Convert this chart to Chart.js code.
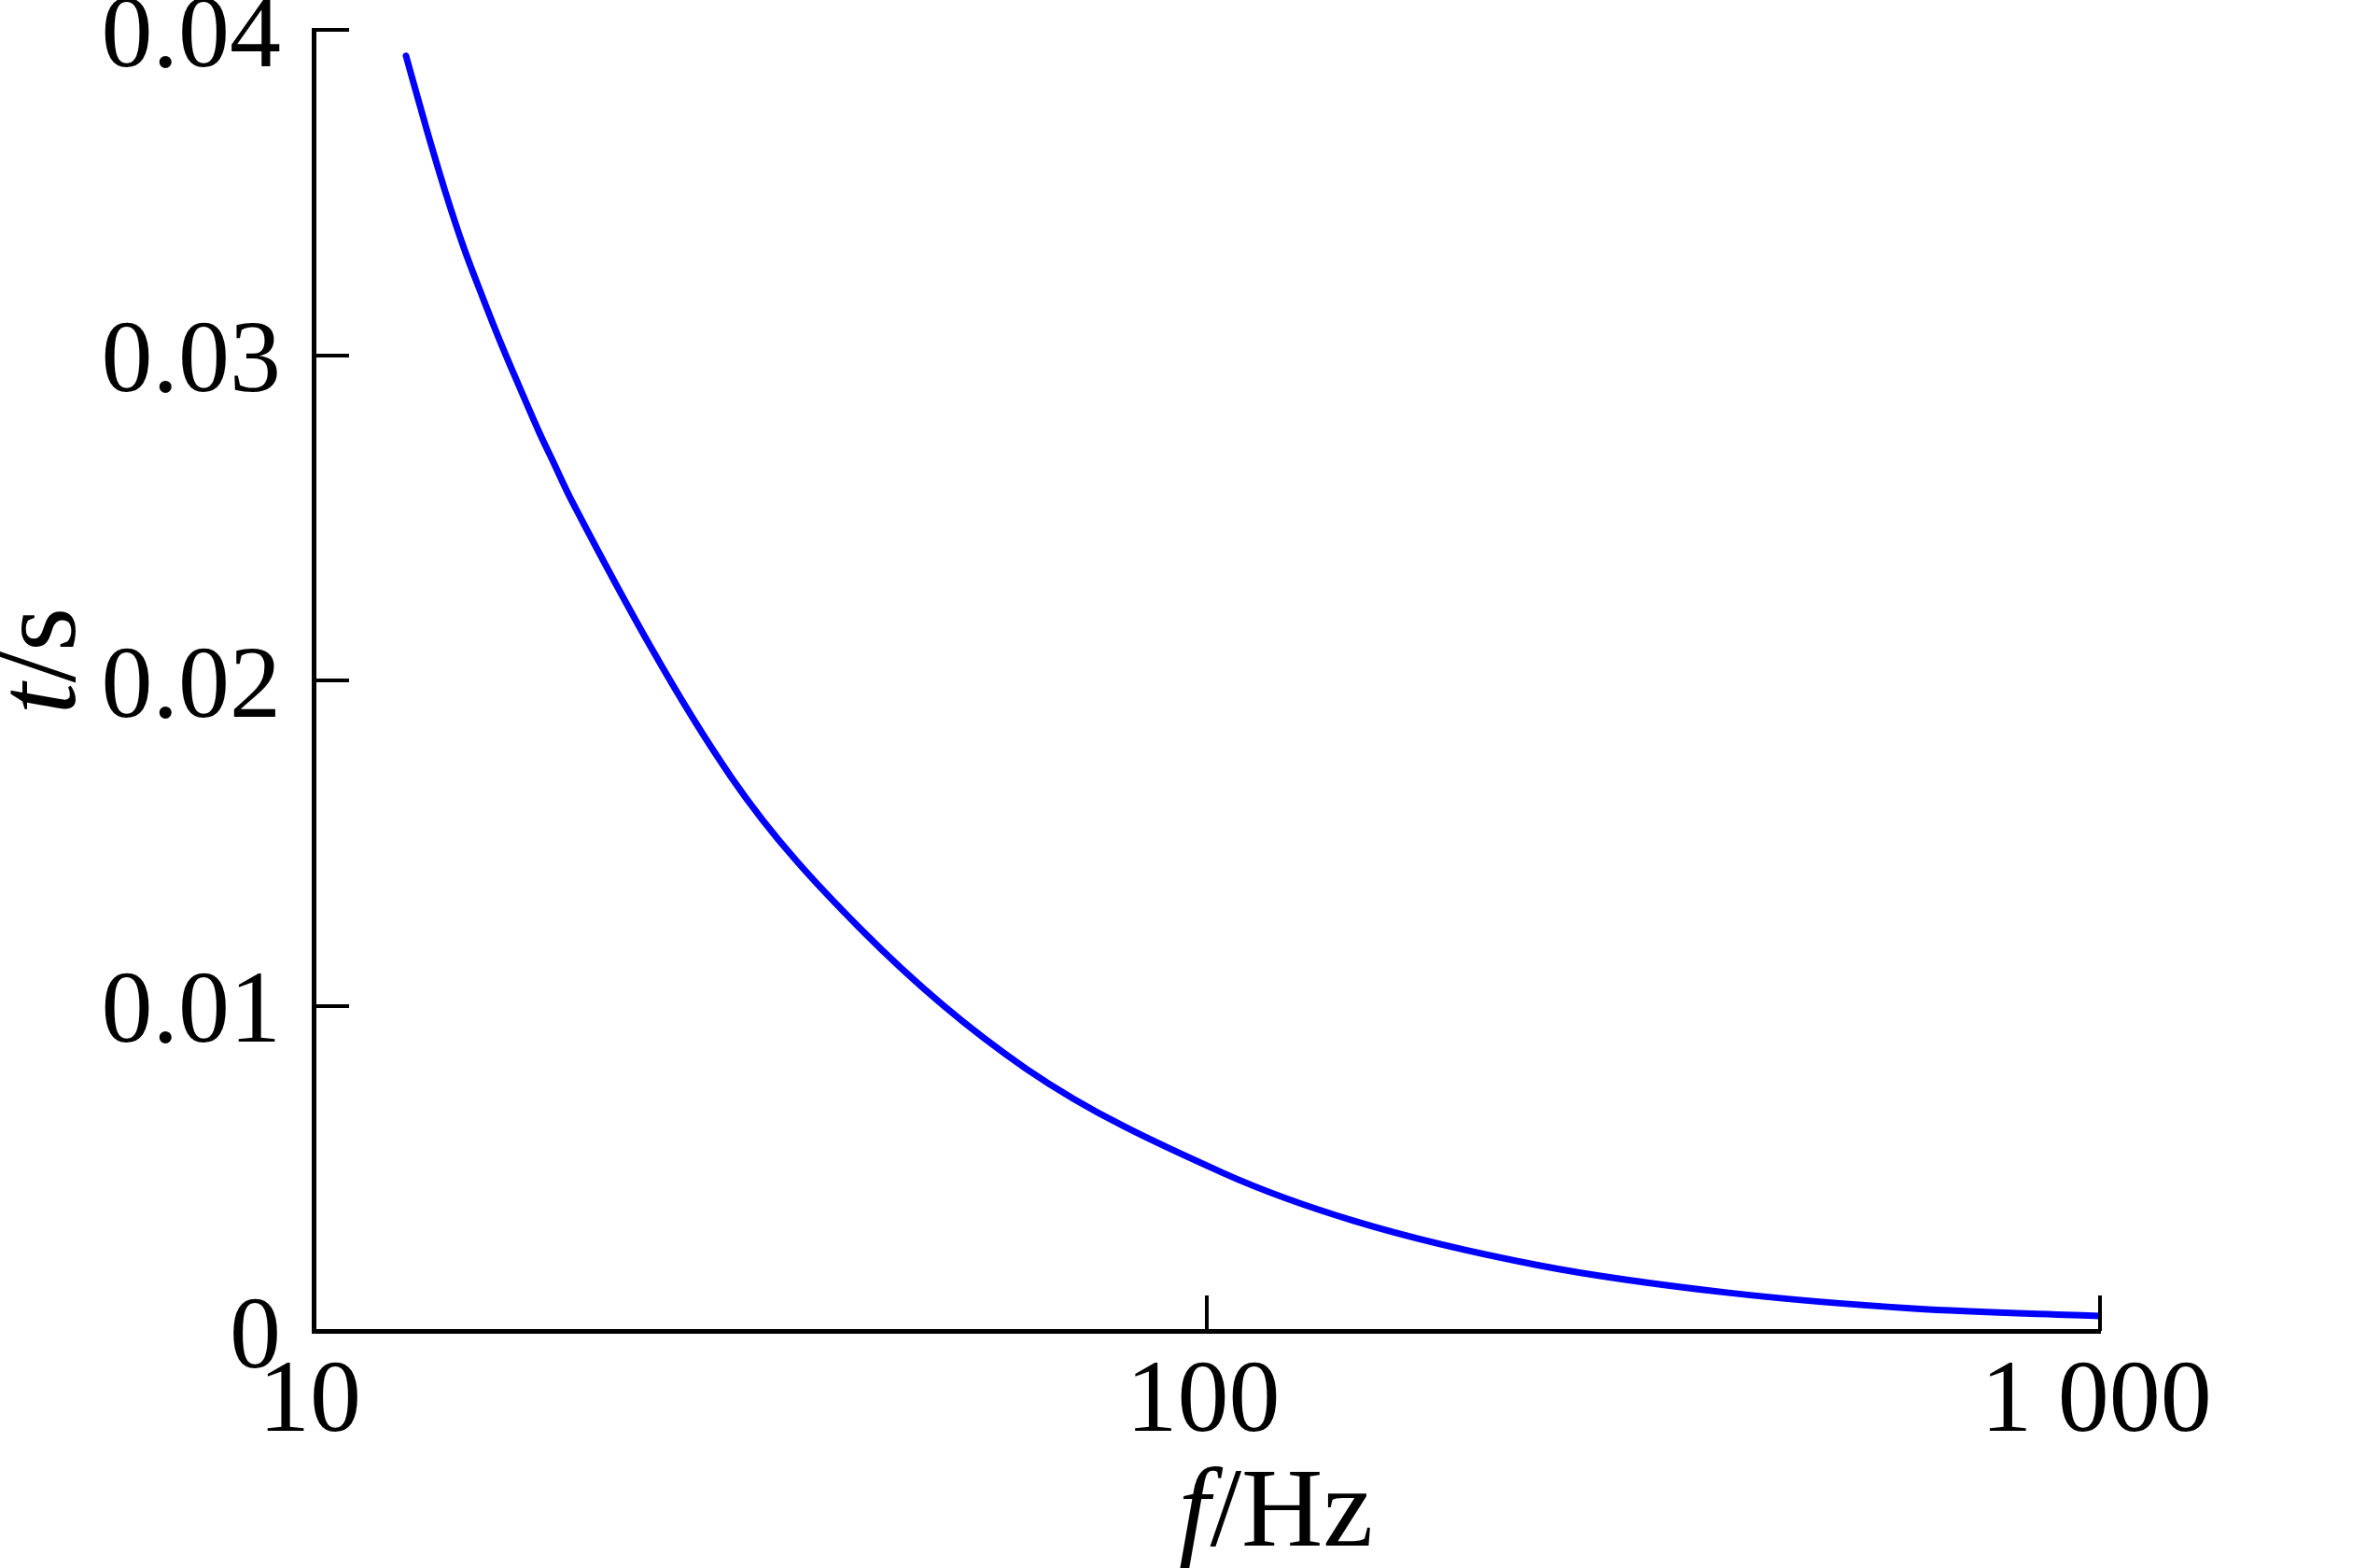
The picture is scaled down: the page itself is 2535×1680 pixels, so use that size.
<!DOCTYPE html>
<html>
<head>
<meta charset="utf-8">
<script src="https://cdn.jsdelivr.net/npm/chart.js@4.4.1/dist/chart.umd.min.js"></script>
<style>
  body { margin: 0; background: #ffffff; }
  #curve { display: block; }
</style>
</head>
<body>
<canvas id="curve" width="2535" height="1680"></canvas>
<script>
// values (f in Hz, t in s)
var freq = [12.69, 13.38, 14.04, 14.73, 15.46, 16.22, 17.02, 17.86, 18.56, 19.43, 29.32, 41.06, 62.71, 104.2, 145.9, 236.1, 382, 618, 1000];
var time = [0.0392, 0.03695, 0.03503, 0.0333, 0.03178, 0.03034, 0.02899, 0.02767, 0.0267, 0.02555, 0.01704, 0.01233, 0.00807, 0.00486, 0.00339, 0.00201, 0.00118, 0.00069, 0.00046];
var xTicks = [10, 100, 1000];
var xTickLabels = ["10", "100", "1 000"];
var yTicks = [0, 0.01, 0.02, 0.03, 0.04];
var yTickLabels = ["0", "0.01", "0.02", "0.03", "0.04"];

var serif = "'Liberation Serif', 'Times New Roman', serif";
var fontSize = 110;
var titleSize = 121;

// inward tick marks and the axis titles (italic symbol + upright unit)
var decorations = {
  id: "decorations",
  afterDraw: function (chart) {
    var ctx = chart.ctx;
    var xs = chart.scales.x;
    var ys = chart.scales.y;
    var area = chart.chartArea;
    ctx.save();
    ctx.strokeStyle = "#000000";
    ctx.lineWidth = 4;
    yTicks.forEach(function (v) {
      if (v === 0) return;
      var py = Math.round(ys.getPixelForValue(v));
      ctx.beginPath();
      ctx.moveTo(area.left, py);
      ctx.lineTo(area.left + 38, py);
      ctx.stroke();
    });
    xTicks.forEach(function (v) {
      if (v === 10) return;
      var px = Math.round(xs.getPixelForValue(v));
      ctx.beginPath();
      ctx.moveTo(px, area.bottom);
      ctx.lineTo(px, area.bottom - 38);
      ctx.stroke();
    });

    ctx.fillStyle = "#000000";
    ctx.textBaseline = "alphabetic";
    ctx.textAlign = "left";
    var italic = "italic " + titleSize + "px " + serif;
    var upright = titleSize + "px " + serif;

    // x title: f/Hz
    ctx.font = italic;
    var wf = ctx.measureText("f").width;
    ctx.font = upright;
    var wr = ctx.measureText("/Hz").width;
    var x0 = 1367 - (wf + wr) / 2;
    ctx.font = italic;
    ctx.fillText("f", x0, 1656);
    ctx.font = upright;
    ctx.fillText("/Hz", x0 + wf, 1656);

    // y title: t/s
    ctx.translate(80, 708);
    ctx.rotate(-Math.PI / 2);
    ctx.font = italic;
    var wt = ctx.measureText("t").width;
    ctx.font = upright;
    var ws = ctx.measureText("/s").width;
    var y0 = -(wt + ws) / 2;
    ctx.font = italic;
    ctx.fillText("t", y0, 0);
    ctx.font = upright;
    ctx.fillText("/s", y0 + wt, 0);
    ctx.restore();
  },
};

function make_chart() {
  var points = [];
  for (var i = 0; i < freq.length; i++) {
    points.push({ x: freq[i], y: time[i] });
  }

  var config = {
    type: "line",
    data: {
      datasets: [
        {
          data: points,
          borderColor: "#0000ff",
          borderWidth: 7,
          borderCapStyle: "round",
          borderJoinStyle: "round",
          pointRadius: 0,
          cubicInterpolationMode: "monotone",
          fill: false,
        },
      ],
    },
    options: {
      responsive: false,
      animation: false,
      devicePixelRatio: 1,
      layout: {
        padding: { left: 0, top: 32, right: 285, bottom: 0 },
      },
      plugins: {
        legend: { display: false },
        tooltip: { enabled: false },
      },
      scales: {
        x: {
          type: "logarithmic",
          min: 10,
          max: 1000,
          afterBuildTicks: function (scale) {
            scale.ticks = xTicks.map(function (v) {
              return { value: v };
            });
          },
          afterFit: function (scale) {
            scale.height = 254;
            scale.paddingLeft = 0;
            scale.paddingRight = 0;
          },
          grid: { display: false, drawTicks: false, tickLength: 0 },
          border: { display: true, color: "#000000", width: 5 },
          ticks: {
            color: "#000000",
            padding: 12,
            labelOffset: -4,
            maxRotation: 0,
            autoSkip: false,
            font: { family: serif, size: fontSize },
            callback: function (value) {
              var k = xTicks.indexOf(value);
              return k >= 0 ? xTickLabels[k] : "";
            },
          },
        },
        y: {
          min: 0,
          max: 0.04,
          afterBuildTicks: function (scale) {
            scale.ticks = yTicks.map(function (v) {
              return { value: v };
            });
          },
          afterFit: function (scale) {
            scale.width = 336;
            scale.paddingTop = 0;
            scale.paddingBottom = 0;
          },
          grid: { display: false, drawTicks: false, tickLength: 0 },
          border: { display: true, color: "#000000", width: 5 },
          ticks: {
            color: "#000000",
            padding: 35,
            labelOffset: 10,
            autoSkip: false,
            font: { family: serif, size: fontSize },
            callback: function (value) {
              var k = yTicks.indexOf(value);
              return k >= 0 ? yTickLabels[k] : "";
            },
          },
        },
      },
    },
    plugins: [decorations],
  };

  var canvas = document.getElementById("curve");
  canvas.chart = new Chart(canvas.getContext("2d"), config);
}

make_chart();
</script>
</body>
</html>
